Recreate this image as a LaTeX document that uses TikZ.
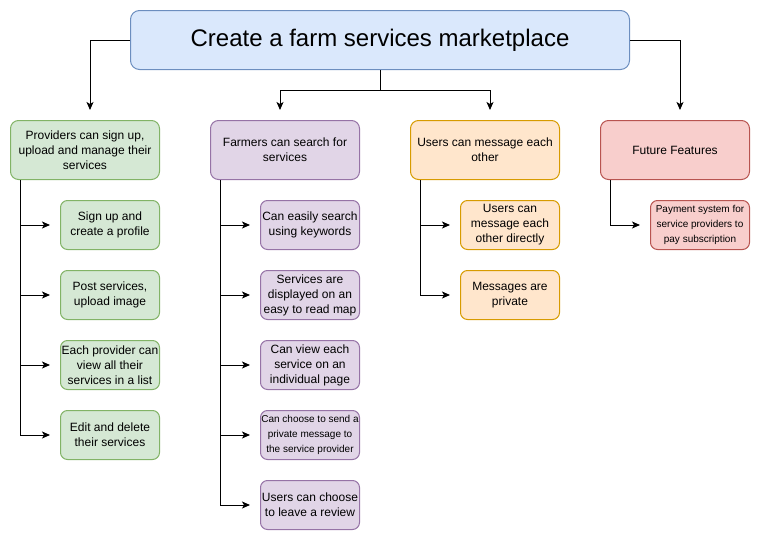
\documentclass[tikz,border=0pt]{standalone}
\usepackage{fontspec}
\setmainfont{Liberation Sans}
\usetikzlibrary{arrows.meta,calc}
\definecolor{bluef}{HTML}{DAE8FC}\definecolor{blued}{HTML}{6C8EBF}
\definecolor{greenf}{HTML}{D5E8D4}\definecolor{greend}{HTML}{82B366}
\definecolor{purplef}{HTML}{E1D5E7}\definecolor{purpled}{HTML}{9673A6}
\definecolor{orangef}{HTML}{FFE6CC}\definecolor{oranged}{HTML}{D79B00}
\definecolor{redf}{HTML}{F8CECC}\definecolor{redd}{HTML}{B85450}
\tikzset{
  box/.style={draw, line width=1pt, rounded corners=8pt, align=center, inner sep=0pt,
    font=\fontsize{12}{15}\selectfont},
  topbox/.style={box, minimum width=149pt, minimum height=59pt},
  subbox/.style={box, minimum width=99pt, minimum height=49pt, rounded corners=7pt},
  small/.style={font=\fontsize{10}{15}\selectfont},
  green/.style={fill=greenf, draw=greend},
  purple/.style={fill=purplef, draw=purpled},
  orange/.style={fill=orangef, draw=oranged},
  red/.style={fill=redf, draw=redd},
  arr/.style={draw=black, line width=1pt, -{Stealth[length=8pt,width=7pt,inset=2pt]}},
  ln/.style={draw=black, line width=1pt},
}
\begin{document}
\begin{tikzpicture}[x=1pt,y=-1pt]
\useasboundingbox (0,0) rectangle (761,541);
\node[box, fill=bluef, draw=blued, minimum width=499pt, minimum height=59pt, rounded corners=9pt,
  font=\fontsize{24}{28}\selectfont] (main) at (380,40) {Create a farm services marketplace};

\node[topbox, green] (prov) at (85,150) {Providers can sign up,\\upload and manage their\\services};
\node[topbox, purple] (farm) at (285,150) {Farmers can search for\\services};
\node[topbox, orange] (user) at (485,150) {Users can message each\\other};
\node[topbox, red] (fut) at (675,150) {Future Features};

\coordinate (t1) at (90,110);
\coordinate (t2) at (280,110);
\coordinate (t3) at (490,110);
\coordinate (t4) at (680,110);
\coordinate (j) at (380,90);
\draw[arr] (main.west) -| (t1);
\draw[arr] (main.south) -- (j) -| (t2);
\draw[arr] (main.south) -- (j) -| (t3);
\draw[arr] (main.east) -| (t4);

% providers children
\node[subbox, green] (p1) at (110,225) {Sign up and\\create a profile};
\node[subbox, green] (p2) at (110,295) {Post services,\\upload image};
\node[subbox, green] (p3) at (110,365) {Each provider can\\view all their\\services in a list};
\node[subbox, green] (p4) at (110,435) {Edit and delete\\their services};

% farmers children
\node[subbox, purple] (f1) at (310,225) {Can easily search\\using keywords};
\node[subbox, purple] (f2) at (310,295) {Services are\\displayed on an\\easy to read map};
\node[subbox, purple] (f3) at (310,365) {Can view each\\service on an\\individual page};
\node[subbox, purple, small] (f4) at (310,435) {Can choose to send a\\private message to\\the service provider};
\node[subbox, purple] (f5) at (310,505) {Users can choose\\to leave a review};

% users children
\node[subbox, orange] (u1) at (510,225) {Users can\\message each\\other directly};
\node[subbox, orange] (u2) at (510,295) {Messages are\\private};

% future child
\node[subbox, red, small] (x1) at (700,225) {Payment system for\\service providers to\\pay subscription};

\foreach \p/\c in {prov/p1,prov/p2,prov/p3,prov/p4,farm/f1,farm/f2,farm/f3,farm/f4,farm/f5,user/u1,user/u2,fut/x1}{
  \draw[arr, shorten >=10pt] ($(\p.south west)+(10,0)$) |- (\c.west);
}
\end{tikzpicture}
\end{document}
